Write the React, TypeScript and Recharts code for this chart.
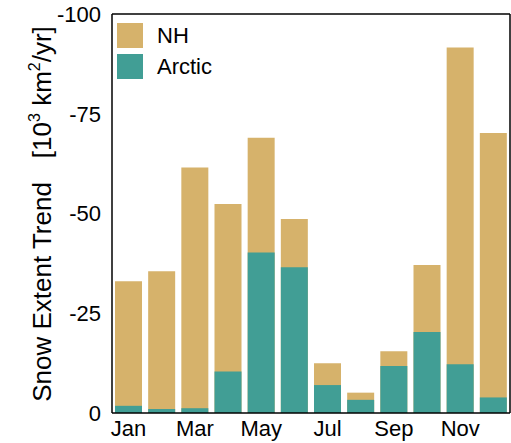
import { Bar, BarChart, Legend, XAxis, YAxis } from "recharts";

const months = ["Jan", "Feb", "Mar", "Apr", "May", "Jun", "Jul", "Aug", "Sep", "Oct", "Nov", "Dec"];
const nhTrend = [-33, -35.5, -61.5, -52.4, -69, -48.6, -12.5, -5.1, -15.5, -37.1, -91.6, -70.2];
const arcticTrend = [-1.8, -1.0, -1.2, -10.4, -40.2, -36.5, -7.0, -3.3, -11.8, -20.3, -12.2, -3.9];
const yTicks = [-100, -75, -50, -25, 0];
const legendOrder = ["NH", "Arctic"];

const data = months.map((m, i) => ({ month: m, NH: nhTrend[i], Arctic: arcticTrend[i] }));

const FONT = "'Liberation Sans', Arial, Helvetica, sans-serif";
const NH_COLOR = "#D6B26B";
const ARCTIC_COLOR = "#419E95";

const LegendBox = ({ payload }: any) => {
  const items = [...(payload || [])].sort(
    (a: any, b: any) => legendOrder.indexOf(a.value) - legendOrder.indexOf(b.value)
  );
  return (
    <div style={{ fontFamily: FONT }}>
      {items.map((p: any) => (
        <div key={p.value} style={{ display: "flex", alignItems: "center", height: 25, marginBottom: 6 }}>
          <div style={{ width: 26, height: 25, background: p.color }} />
          <span style={{ marginLeft: 14, fontSize: 22, color: "#000" }}>{p.value}</span>
        </div>
      ))}
    </div>
  );
};

const AxisTitle = () => (
  <text
    x={0}
    y={0}
    transform="translate(51, 214) rotate(-90)"
    textAnchor="middle"
    fontSize={26}
    fontFamily={FONT}
    fill="#000"
  >
    <tspan>Snow Extent Trend</tspan>
    <tspan dx={24}>[10</tspan>
    <tspan dy={-11} fontSize={16}>3</tspan>
    <tspan dy={11}> km</tspan>
    <tspan dy={-11} fontSize={16}>2</tspan>
    <tspan dy={11}>/yr]</tspan>
  </text>
);

const App = () => {
  return (
    <div style={{ position: "absolute", left: 0, top: 0 }}>
      <BarChart
        width={511}
        height={443}
        data={data}
        margin={{ top: 13, right: 0, bottom: 0, left: 0 }}
        barSize={27}
        barGap={-27}
      >
        <XAxis
          dataKey="month"
          interval={1}
          height={30}
          tickLine={false}
          tickSize={0}
          tickMargin={7}
          axisLine={{ stroke: "#000", strokeWidth: 1.5 }}
          tick={{ fontSize: 22, fill: "#000", fontFamily: FONT }}
        />
        <XAxis
          xAxisId="top"
          dataKey="month"
          orientation="top"
          height={1}
          tick={false}
          tickLine={false}
          axisLine={{ stroke: "#000", strokeWidth: 1.5 }}
        />
        <YAxis
          width={112}
          domain={[-100, 0]}
          ticks={yTicks}
          reversed
          tickLine={false}
          tickSize={5}
          tickMargin={6}
          axisLine={{ stroke: "#000", strokeWidth: 1.5 }}
          tick={{ fontSize: 22, fill: "#000", fontFamily: FONT }}
          label={{ content: () => <AxisTitle /> }}
        />
        <YAxis
          yAxisId="right"
          orientation="right"
          width={1}
          domain={[-100, 0]}
          reversed
          tick={false}
          tickLine={false}
          axisLine={{ stroke: "#000", strokeWidth: 1.5 }}
        />
        <Legend
          layout="vertical"
          align="center"
          verticalAlign="middle"
          content={<LegendBox />}
          wrapperStyle={{ left: 117, top: 23, width: 150 }}
        />
        <Bar dataKey="NH" name="NH" fill={NH_COLOR} isAnimationActive={false} />
        <Bar dataKey="Arctic" name="Arctic" fill={ARCTIC_COLOR} isAnimationActive={false} />
      </BarChart>
    </div>
  );
};

export default App;
